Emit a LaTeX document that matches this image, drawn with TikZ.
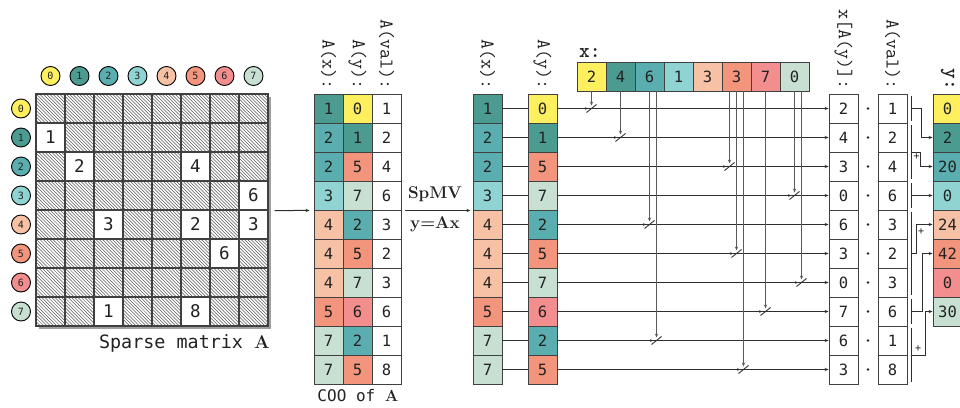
\documentclass[tikz,border=0pt]{standalone}
\usepackage{fontspec}
\newfontfamily\dmono{DejaVu Sans Mono}
\usetikzlibrary{arrows.meta,calc}

% index colours 0..7
\definecolor{c0}{HTML}{FDEF5E}
\definecolor{c1}{HTML}{4C9B90}
\definecolor{c2}{HTML}{5BAEAF}
\definecolor{c3}{HTML}{8FD3D3}
\definecolor{c4}{HTML}{F7C1A5}
\definecolor{c5}{HTML}{F3957C}
\definecolor{c6}{HTML}{F38E8E}
\definecolor{c7}{HTML}{C7E0D2}
\definecolor{edge}{HTML}{404040}
\definecolor{ink}{HTML}{222222}
\definecolor{hatchc}{HTML}{5A5A5A}
\definecolor{wirec}{HTML}{2E2E2E}
\definecolor{vwirec}{HTML}{5A5A5A}

\begin{document}
\begin{tikzpicture}[x=1pt,y=-1pt,
  cell/.style={draw=edge,line width=0.9pt,minimum width=29pt,minimum height=29pt,
    inner sep=0pt,font=\dmono\fontsize{15.5}{18}\selectfont,text=ink},
  idx/.style={circle,draw=black,line width=0.9pt,minimum size=19pt,inner sep=0pt,
    font=\dmono\fontsize{10}{12}\selectfont,text=ink},
  lab/.style={rotate=-90,anchor=east,inner sep=0pt,font=\ttfamily\fontsize{19.5}{21}\selectfont,text=ink},
  wire/.style={draw=wirec,line width=0.8pt},
  vwire/.style={draw=vwirec,line width=1.1pt},
  tip/.style={-{Stealth[length=4pt,width=3.2pt]}},
  smalltip/.style={-{Stealth[length=3pt,width=2.6pt]}},
  plus/.style={inner sep=0pt,font=\dmono\fontsize{10}{12}\selectfont,text=ink},
  dotop/.style={circle,fill=ink,inner sep=0pt,minimum size=2.8pt},
]
\useasboundingbox (0,0) rectangle (960,407);
\fill[white] (0,0) rectangle (960,407);

% ---------- sparse matrix A ----------
\fill[gray!75] (38.5,96.5) rectangle (270.5,328.5);
\fill[white] (36,94) rectangle (268,326);
% diagonal hatching of the whole matrix; non-zero cells are painted over
\begin{scope}
  \clip (36,94) rectangle (268,326);
  \foreach \k in {-234,-230.7,...,234}{
    \draw[hatchc,line width=0.5pt] ({36+\k},94) -- ({268+\k},326);
  }
\end{scope}
\foreach \r in {0,...,7}{
  \foreach \c in {0,...,7}{
    \node[cell,line width=1.1pt] (m-\r-\c) at ({50.5+29*\c},{108.5+29*\r}) {};
  }
}
\foreach \r/\c/\v in {1/0/1,2/1/2,2/5/4,3/7/6,4/2/3,4/5/2,4/7/3,5/6/6,7/2/1,7/5/8}{
  \node[cell,fill=white,line width=1.1pt,font=\dmono\fontsize{17.5}{20}\selectfont] (nz-\r-\c) at (m-\r-\c) {\v};
}
\foreach \i in {0,...,7}{
  \node[idx,fill=c\i] (ct-\i) at ({50.5+29*\i},76) {\i};
  \node[idx,fill=c\i] (cl-\i) at (21,{108.5+29*\i}) {\i};
}
\node[anchor=base east,inner sep=0pt,font=\dmono\fontsize{18.4}{20}\selectfont,text=ink]
  (mcap) at (270,348) {Sparse matrix {\rmfamily\bfseries A}};

% ---------- COO of A ----------
\foreach \r/\x/\y/\v in {0/1/0/1,1/2/1/2,2/2/5/4,3/3/7/6,4/4/2/3,5/4/5/2,6/4/7/3,7/5/6/6,8/7/2/1,9/7/5/8}{
  \node[cell,fill=c\x] (a-x-\r) at (328.5,{108.5+29*\r}) {\x};
  \node[cell,fill=c\y] (a-y-\r) at (357.5,{108.5+29*\r}) {\y};
  \node[cell,fill=white] (a-v-\r) at (386.5,{108.5+29*\r}) {\v};
}
\node[lab] (la-x) at (328.5,90) {A(x):};
\node[lab] (la-y) at (357.5,90) {A(y):};
\node[lab] (la-v) at (386.5,90) {A(val):};
\node[anchor=base,inner sep=0pt,font=\dmono\fontsize{16}{18}\selectfont,text=ink]
  (coocap) at (358,401) {COO of {\rmfamily\bfseries A}};

\coordinate (m-out) at ($(m-3-7.south east)+(6,0)$);
\draw[wire,line width=1pt,tip] (m-out) -- ($(a-x-3.south west)+(-4,0)$);

% ---------- SpMV step ----------
\draw[wire,line width=1pt,tip] ($(a-v-3.south east)+(4,0)$) -- ($(a-v-3.south east)+(69,0)$) coordinate (spmv-end);
\node[inner sep=0pt,font=\rmfamily\bfseries\fontsize{17}{19}\selectfont,text=ink] (spmv) at (435,194) {SpMV};
\node[inner sep=0pt,font=\rmfamily\bfseries\fontsize{17}{19}\selectfont,text=ink] (yax) at (435,224) {y=Ax};

% ---------- x vector ----------
\foreach \i/\v in {0/2,1/4,2/6,3/1,4/3,5/3,6/7,7/0}{
  \node[cell,fill=c\i] (xv-\i) at ({591.5+29*\i},76.5) {\v};
}
\node[anchor=base west,inner sep=0pt,font=\ttfamily\bfseries\fontsize{20.5}{22}\selectfont,text=ink]
  (xlab) at (579,57) {x:};

% ---------- gather and multiply ----------
\foreach \r/\x/\y/\p/\v in {0/1/0/2/1,1/2/1/4/2,2/2/5/3/4,3/3/7/0/6,4/4/2/6/3,5/4/5/3/2,6/4/7/0/3,7/5/6/7/6,8/7/2/6/1,9/7/5/3/8}{
  \node[cell,fill=c\x] (b-x-\r) at (487.5,{108.5+29*\r}) {\x};
  \node[cell,fill=c\y] (b-y-\r) at (542.5,{108.5+29*\r}) {\y};
  \node[cell,fill=white] (p-\r) at (843.5,{108.5+29*\r}) {\p};
  \node[dotop] (d-\r) at (868,{108.5+29*\r}) {};
  \node[cell,fill=white] (q-\r) at (892.5,{108.5+29*\r}) {\v};
  \draw[wire] (b-x-\r.east) -- (b-y-\r.west);
  \draw[wire,tip] (b-y-\r.east) -- (p-\r.west);
}
\node[lab] (lb-x) at (487.5,90) {A(x):};
\node[lab] (lb-y) at (542.5,90) {A(y):};
\node[lab] (lp) at (843.5,90) {x[A(y)]:};
\node[lab] (lq) at (892.5,90) {A(val):};

% x[A(y)] lookups: row / x index / offset inside the x cell
\foreach \r/\c/\o in {0/0/0,1/1/0,2/5/-7,3/7/0,4/2/0,5/5/0,6/7/7,7/6/0,8/2/7,9/5/7}{
  \coordinate (t-\r) at ($(xv-\c.south)+(\o,0)$);
  \coordinate (j-\r) at (t-\r |- b-y-\r.east);
  \draw[vwire,tip,shorten >=3pt] (t-\r) -- (j-\r);
  \draw[wire,smalltip] ($(j-\r)+(-8,0)$) -- ($(j-\r)+(-3.5,0)$);
  \draw[wire,line width=0.9pt] ($(j-\r)+(-5,4)$) -- ($(j-\r)+(5,-4)$);
}

% ---------- reduction into y ----------
\foreach \i/\v in {0/0,1/2,2/20,3/0,4/24,5/42,6/0,7/30}{
  \node[cell,fill=c\i] (yv-\i) at (947.5,{108.5+29*\i}) {\v};
}
\node[lab,font=\ttfamily\bfseries\fontsize{20.5}{22}\selectfont] (ly) at (947.5,90) {y:};

\foreach \f/\l in {0/0,1/2,3/3,4/6,7/7,8/9}{
  \draw[wire] ($(q-\f.north east)+(4,2)$) -- ($(q-\l.south east)+(4,-2)$);
}
\draw[wire,tip] ($(q-0.east)+(4,0)$) -- ++(10,0) |- (yv-1.west);
\draw[wire,tip] ($(q-1.south east)+(4,0)$) -- ++(9,0) |- (yv-2.west);
\draw[wire,tip] ($(q-3.east)+(4,0)$) -- (yv-3.west);
\draw[wire,tip] ($(q-5.east)+(4,0)$) -- ++(5,0) |- (yv-4.west);
\draw[wire,tip] ($(q-7.east)+(4,0)$) -- ++(11,0) |- (yv-5.west);
\draw[wire,tip] ($(q-8.south east)+(4,0)$) -- ++(14,0) |- (yv-7.west);
\node[plus] (plus-a) at (916.5,157) {+};
\node[plus] (plus-b) at (921,232) {+};
\node[plus] (plus-c) at (918,349) {+};
\end{tikzpicture}
\end{document}
